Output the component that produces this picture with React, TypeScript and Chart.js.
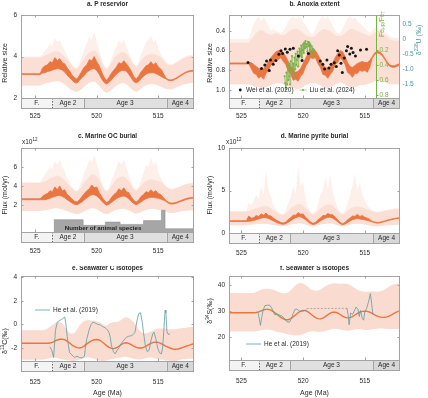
import React, { useEffect, useRef } from "react";
import { Chart, registerables } from "chart.js";
Chart.register(...registerables);

// ---------------- shared axis data ----------------
const AGE = [526.2,526.0,525.8,525.6,525.4,525.2,525.0,524.8,524.6,524.4,524.2,524.0,523.8,523.6,523.4,523.2,523.0,522.8,522.6,522.4,522.2,522.0,521.8,521.6,521.4,521.2,521.0,520.8,520.6,520.4,520.2,520.0,519.8,519.6,519.4,519.2,519.0,518.8,518.6,518.4,518.2,518.0,517.8,517.6,517.4,517.2,517.0,516.8,516.6,516.4,516.2,516.0,515.8,515.6,515.4,515.2,515.0,514.8,514.6,514.4,514.2,514.0,513.8,513.6,513.4,513.2,513.0,512.8,512.6,512.4,512.2,512.0];
const X_TICKS = [525, 520, 515];
const STAGE_NAMES = ["F.", "Age 2", "Age 3", "Age 4"];
const STAGE_BOUNDS = [527, 523.6, 521.07, 514.33, 511];

// ---------------- a. P reservoir ----------------
const A_TICKS = [2, 4, 6];
const A_OR_HI = [3.17,3.17,3.17,3.17,3.17,3.17,3.17,3.17,3.17, 3.45,3.55,3.6,3.75,3.7,3.95,3.8,3.9,3.7,3.65, 3.45,3.3,3.1,2.98,2.9,3.1,3.3,3.5,3.6,3.85, 3.8,4.0,3.75,3.55,3.25,3.0,2.85,3.0,3.2,3.35, 3.5,3.7,3.65,3.8,3.65,3.5,3.3,3.05,2.9,3.05, 3.25,3.4,3.55,3.6,3.75,3.6,3.7,3.5,3.4,3.2, 2.97,2.89,2.87,2.89,2.95,3.02,3.1,3.17,3.24,3.29,3.32,3.33,3.32];
const A_OR_LO = [3.13,3.13,3.13,3.13,3.13,3.13,3.13,3.13,3.13, 3.2,3.22,3.28,3.3,3.35,3.38,3.42,3.4,3.35,3.25, 3.1,2.97,2.85,2.75,2.72,2.85,2.98,3.1,3.25,3.32, 3.4,3.42,3.32,3.15,2.92,2.75,2.68,2.76,2.88,3.02, 3.15,3.25,3.32,3.33,3.3,3.15,2.97,2.8,2.72,2.8, 2.93,3.05,3.15,3.2,3.22,3.22,3.18,3.12,3.05,2.98, 2.93,2.85,2.83,2.85,2.91,2.98,3.06,3.13,3.2,3.25,3.28,3.29,3.28];
const A_ENV_LO = [2.6,2.6,2.6,2.6,2.6,2.6,2.6,2.6,2.6, 2.65,2.7,2.72,2.75,2.78,2.8,2.82,2.8,2.75,2.65, 2.55,2.45,2.38,2.32,2.3,2.35,2.45,2.55,2.65,2.75, 2.8,2.8,2.72,2.6,2.45,2.32,2.25,2.3,2.4,2.5, 2.6,2.68,2.72,2.72,2.68,2.58,2.45,2.35,2.3,2.35, 2.45,2.55,2.62,2.65,2.68,2.68,2.65,2.6,2.55,2.5, 2.45,2.42,2.42,2.45,2.5,2.55,2.6,2.65,2.68,2.7,2.72,2.72,2.72];
const A_ENV_HI = [3.95,3.95,3.95,3.95,3.95,3.95,3.95,3.95,3.95, 4.0,4.05,4.1,4.15,4.2,4.25,4.25,4.2,4.1,4.0, 3.85,3.7,3.55,3.45,3.4,3.55,3.75,3.95,4.1,4.2, 4.25,4.3,4.2,4.0,3.75,3.5,3.4,3.5,3.7,3.9, 4.05,4.15,4.2,4.2,4.15,4.0,3.8,3.6,3.5,3.6, 3.8,3.95,4.05,4.1,4.15,4.12,4.1,4.05,3.95,3.85, 3.7,3.6,3.58,3.6,3.68,3.75,3.82,3.9,3.95,4.0,4.02,4.03,4.02];
const A_ENV_PK = [4.0,4.0,4.0,4.0,4.0,4.0,4.0,4.0,4.0, 4.1,4.3,4.4,4.6,4.5,4.9,4.7,4.8,4.5,4.3, 4.0,3.8,3.6,3.5,3.45,3.7,4.0,4.4,4.6,5.0, 4.8,5.2,4.7,4.3,3.9,3.55,3.45,3.6,3.9,4.2, 4.5,4.8,4.6,4.8,4.5,4.2,3.9,3.65,3.55,3.75, 4.1,4.4,4.7,4.8,5.0,4.7,4.8,4.4,4.1,3.9, 3.75,3.65,3.62,3.65,3.72,3.8,3.87,3.95,4.0,4.05,4.07,4.08,4.07];

// ---------------- b. Anoxia extent ----------------
const B_TICKS = [0.4, 0.6, 0.8, 1];
const U_TICKS = [0.5, 0, -0.5, -1, -1.5];
const FE_TICKS = [0.2, 0.4, 0.6, 0.8];
const FE_AXIS_AGE = 514.1;
const B_OR_TOP = [0.725,0.725,0.725,0.725,0.725,0.725,0.725,0.725,0.725,0.725, 0.72,0.74,0.76,0.78,0.79,0.78,0.75,0.71,0.67,0.64, 0.61,0.6,0.6,0.62,0.66,0.71,0.76,0.8,0.82,0.81, 0.78,0.73,0.68,0.63,0.6,0.59,0.6,0.64,0.69,0.74, 0.77,0.78,0.76,0.72,0.67,0.63,0.6,0.61,0.66,0.72, 0.76,0.77,0.75,0.73,0.72,0.71,0.72,0.72,0.7, 0.662,0.622,0.607,0.612,0.632,0.672,0.712,0.742,0.752,0.752,0.742,0.732,0.722];
const B_OR_BOT = [0.735,0.735,0.735,0.735,0.735,0.735,0.735,0.735,0.735,0.735, 0.78,0.83,0.84,0.88,0.86,0.89,0.83,0.8,0.74,0.73, 0.68,0.69,0.67,0.71,0.74,0.81,0.84,0.9,0.89,0.91, 0.86,0.83,0.76,0.72,0.67,0.68,0.67,0.73,0.77,0.84, 0.85,0.88,0.84,0.81,0.74,0.72,0.67,0.7,0.74,0.82, 0.84,0.87,0.83,0.83,0.8,0.81,0.8,0.82,0.77, 0.678,0.638,0.623,0.628,0.648,0.688,0.728,0.758,0.768,0.768,0.758,0.748,0.738];
const B_ENV_BOT = [0.94,0.94,0.94,0.94,0.94,0.94,0.94,0.94,0.94,0.94, 0.95,0.96,0.97,0.97,0.98,0.98,0.97,0.96,0.95,0.94, 0.93,0.93,0.93,0.94,0.95,0.96,0.97,0.98,0.99,0.99, 0.98,0.97,0.95,0.94,0.93,0.93,0.93,0.94,0.95,0.97, 0.98,0.98,0.97,0.96,0.94,0.93,0.92,0.93,0.94,0.96, 0.97,0.98,0.97,0.96,0.95,0.95,0.95,0.94,0.93,0.92, 0.91,0.9,0.9,0.91,0.92,0.93,0.94,0.94,0.94,0.94,0.94,0.94];
const B_ENV_IN = [0.52,0.52,0.52,0.52,0.52,0.52,0.52,0.52,0.52,0.52, 0.48,0.45,0.42,0.4,0.39,0.4,0.42,0.43,0.44,0.43, 0.42,0.43,0.44,0.44,0.43,0.41,0.39,0.38,0.38,0.38, 0.4,0.42,0.44,0.45,0.46,0.46,0.45,0.42,0.4,0.38, 0.38,0.39,0.4,0.42,0.44,0.45,0.45,0.44,0.42,0.4, 0.38,0.38,0.39,0.4,0.41,0.42,0.43,0.44,0.45,0.44, 0.42,0.4,0.4,0.42,0.44,0.46,0.48,0.49,0.5,0.5,0.5,0.5];
const B_ENV_PK = [0.48,0.48,0.48,0.48,0.48,0.48,0.48,0.48,0.48,0.48, 0.4,0.33,0.28,0.25,0.3,0.26,0.3,0.35,0.4,0.38, 0.4,0.41,0.42,0.4,0.36,0.3,0.27,0.25,0.28,0.25, 0.27,0.3,0.34,0.38,0.42,0.43,0.38,0.32,0.27,0.25, 0.28,0.25,0.3,0.35,0.4,0.42,0.42,0.38,0.32,0.27, 0.25,0.28,0.26,0.3,0.32,0.35,0.37,0.4,0.42,0.4, 0.37,0.36,0.37,0.39,0.41,0.43,0.45,0.46,0.47,0.47,0.47,0.47];
const WEI_AGE = [524.46,523.37,523.10,522.96,522.74,522.64,522.42,522.20,521.96,521.79,521.66,521.44,521.28,521.06,520.79,520.38,520.08,519.57,518.61,518.40,518.26,518.07,517.91,517.74,517.47,517.31,517.20,517.07,516.93,516.82,516.66,516.49,516.39,516.22,516.09,515.95,515.76,515.35,514.86];
const WEI_U = [-0.77,-0.97,-0.86,-0.72,-1.04,-0.69,-0.83,-0.71,-0.50,-0.38,-0.47,-0.32,-0.43,-0.33,-0.30,-0.56,-0.71,-0.47,-0.72,-0.83,-0.99,-0.69,-0.96,-0.83,-0.78,-0.91,-0.38,-0.52,-0.80,-1.11,-0.62,-0.38,-0.24,-0.49,-0.30,-0.44,-0.56,-0.36,-0.33];
const LIU_AGE = [521.5,521.45,521.4,521.35,521.3,521.25,521.2,521.15,521.1,521.05,521.0,520.95,520.9,520.85,520.8,520.75,520.7,520.65,520.6,520.55,520.5,520.45,520.4,520.35,520.3,520.25,520.2,520.15,520.1,520.05,520.0,519.95,519.9,519.85,519.8,519.75,519.7,519.65,519.6,519.55,519.5,519.45,519.4,519.35,519.3,519.25,519.2,519.15,519.1];
const LIU_FE = [0.55,0.64,0.72,0.5,0.66,0.42,0.6,0.38,0.55,0.66,0.35,0.5,0.28,0.45,0.38,0.56,0.3,0.46,0.25,0.4,0.33,0.22,0.42,0.3,0.18,0.28,0.22,0.14,0.3,0.2,0.12,0.24,0.1,0.18,0.08,0.16,0.12,0.22,0.09,0.15,0.1,0.2,0.13,0.25,0.15,0.22,0.18,0.28,0.2];

// ---------------- c. Marine OC burial ----------------
const C_TICKS = [2, 4, 6];
const C_OR_HI = [2.65,2.65,2.65,2.65,2.65,2.65,2.65,2.65,2.65, 2.9,3.1,3.2,3.5,3.4,3.9,3.6,4.0,3.5,3.6, 3.1,2.9,2.6,2.4,2.3,2.55,2.9,3.2,3.5,3.7, 4.1,3.8,3.9,3.3,2.9,2.5,2.25,2.4,2.8,3.1, 3.3,3.7,3.5,3.8,3.4,3.3,2.85,2.5,2.3,2.5, 2.9,3.1,3.4,3.3,3.6,3.35,3.5,3.2,3.1,2.8, 2.5,2.3,2.2,2.2,2.25,2.35,2.45,2.55,2.65,2.72,2.77,2.8,2.8];
const C_OR_LO = [2.55,2.55,2.55,2.55,2.55,2.55,2.55,2.55,2.55, 2.55,2.55,2.62,2.7,2.8,2.9,2.98,3.0,2.9,2.75, 2.55,2.37,2.2,2.07,2.03,2.15,2.32,2.55,2.75,2.95, 3.08,3.08,2.95,2.7,2.42,2.15,1.98,2.07,2.27,2.47, 2.65,2.8,2.9,2.95,2.85,2.65,2.37,2.15,2.03,2.15, 2.32,2.5,2.65,2.75,2.8,2.8,2.75,2.7,2.62,2.52, 2.4,2.2,2.1,2.1,2.15,2.25,2.35,2.45,2.55,2.62,2.67,2.7,2.7];
const C_ENV_LO = [1.35,1.35,1.35,1.35,1.35,1.35,1.35,1.35,1.35, 1.4,1.45,1.5,1.55,1.6,1.65,1.65,1.6,1.55,1.45, 1.35,1.25,1.15,1.1,1.05,1.1,1.2,1.35,1.5,1.6, 1.65,1.65,1.55,1.4,1.25,1.1,1.05,1.1,1.25,1.4, 1.5,1.55,1.6,1.6,1.55,1.45,1.3,1.15,1.1,1.15, 1.25,1.4,1.5,1.55,1.6,1.6,1.55,1.5,1.45,1.4, 1.3,1.2,1.15,1.15,1.2,1.25,1.3,1.35,1.4,1.42,1.45,1.45,1.45];
const C_ENV_HI = [4.3,4.3,4.3,4.3,4.3,4.3,4.3,4.3,4.3, 4.4,4.5,4.6,4.8,4.9,5.0,5.1,5.0,4.8,4.6, 4.3,4.0,3.7,3.5,3.4,3.6,4.0,4.4,4.7,5.0, 5.2,5.2,5.0,4.6,4.1,3.6,3.4,3.6,4.0,4.4, 4.7,4.9,5.0,5.0,4.8,4.5,4.1,3.7,3.5,3.7, 4.0,4.3,4.5,4.6,4.7,4.65,4.6,4.5,4.4,4.2, 3.95,3.75,3.65,3.65,3.75,3.85,3.95,4.05,4.15,4.2,4.25,4.25,4.25];
const C_ENV_PK = [4.4,4.4,4.4,4.4,4.4,4.4,4.4,4.4,4.4, 4.8,5.2,5.6,6.0,5.8,6.6,6.2,6.8,6.0,5.6, 4.8,4.4,3.9,3.6,3.5,3.9,4.6,5.4,6.0,6.8, 6.5,7.2,6.4,5.4,4.4,3.8,3.5,3.8,4.6,5.2, 6.0,6.6,6.2,6.8,6.0,5.2,4.4,3.8,3.6,3.9, 4.6,5.4,6.2,6.0,7.0,6.2,6.6,5.4,4.9,4.4, 4.0,3.8,3.7,3.7,3.8,3.9,4.0,4.1,4.2,4.25,4.3,4.3,4.3];
const SPECIES_AGE = [523.5, 521.1, 519.3, 518.1, 516.2, 514.75, 514.45, 512.0];
const SPECIES_N = [0.45, -0.15, 0.2, -0.05, 0.35, 1.45, -0.5, -0.5];

// ---------------- d. Marine pyrite burial ----------------
const D_TICKS = [0, 5, 10];
const D_OR_HI = [1.45,1.45,1.45,1.45,1.45,1.45,1.45,1.45,1.45, 2.0,1.75,1.8,2.05,1.95,2.25,2.1,2.35,2.05,2.0, 1.75,1.55,1.38,1.24,1.18,1.3,1.6,1.8,2.1,2.1, 2.4,2.2,2.25,1.85,1.6,1.28,1.14,1.25,1.55,1.75, 2.05,2.05,2.3,2.15,2.15,1.85,1.58,1.25,1.1,1.25, 1.55,1.75,2.0,1.95,2.2,1.95,2.05,1.85,1.75,1.6, 1.39,1.29,1.24,1.26,1.34,1.42,1.51,1.59,1.66,1.72,1.76,1.79,1.79];
const D_OR_LO = [1.35,1.35,1.35,1.35,1.35,1.35,1.35,1.35,1.35, 1.38,1.42,1.47,1.55,1.65,1.75,1.8,1.8,1.7,1.55, 1.42,1.28,1.15,1.06,1.02,1.1,1.27,1.45,1.65,1.8, 1.9,1.9,1.75,1.55,1.32,1.1,1.0,1.05,1.22,1.42, 1.6,1.75,1.85,1.85,1.75,1.55,1.32,1.1,0.97,1.05, 1.22,1.42,1.55,1.65,1.7,1.65,1.6,1.55,1.47,1.4, 1.31,1.21,1.16,1.18,1.26,1.34,1.43,1.51,1.58,1.64,1.68,1.71,1.71];
const D_ENV_LO = [0.9,0.9,0.9,0.9,0.9,0.9,0.9,0.9,0.9, 0.95,1.0,1.0,1.05,1.1,1.1,1.1,1.1,1.05,1.0, 0.95,0.9,0.85,0.8,0.8,0.85,0.9,1.0,1.05,1.1, 1.15,1.15,1.1,1.0,0.9,0.8,0.78,0.8,0.9,1.0, 1.05,1.1,1.15,1.15,1.1,1.0,0.9,0.8,0.78,0.8, 0.9,1.0,1.05,1.1,1.1,1.1,1.05,1.0,0.95,0.9, 0.85,0.82,0.8,0.82,0.85,0.88,0.9,0.92,0.95,0.97,0.98,0.98,0.98];
const D_ENV_HI = [2.5,2.5,2.5,2.5,2.5,2.5,2.5,2.5,2.5, 2.6,2.7,2.8,2.9,3.0,3.1,3.2,3.2,3.1,2.9, 2.7,2.5,2.3,2.15,2.1,2.3,2.6,2.9,3.1,3.3, 3.4,3.4,3.2,2.9,2.6,2.3,2.15,2.3,2.6,2.9, 3.1,3.3,3.35,3.35,3.2,2.9,2.6,2.3,2.15,2.3, 2.6,2.85,3.0,3.1,3.15,3.1,3.0,2.9,2.8,2.7, 2.55,2.45,2.4,2.45,2.5,2.6,2.65,2.7,2.75,2.8,2.8,2.8,2.8];
const D_ENV_PK = [2.6,2.6,2.6,2.6,2.6,2.6,2.6,2.6,2.6, 3.6,3.2,3.8,4.5,4.0,5.5,4.5,7.5,5.0,4.2, 3.2,2.8,2.5,2.3,2.2,2.6,3.5,4.2,5.5,4.6, 8.0,5.5,6.0,4.0,3.0,2.5,2.3,2.6,3.4,4.5, 5.0,6.5,5.0,7.0,4.8,3.8,2.9,2.5,2.3,2.7, 3.4,4.5,5.5,7.0,5.0,6.0,4.5,3.8,3.2,2.9, 2.65,2.55,2.5,2.55,2.6,2.7,2.75,2.8,2.85,2.9,2.9,2.9,2.9];

// ---------------- e. Seawater C isotopes ----------------
const E_TICKS = [-2, 0, 2, 4];
const E_OR = [-1.6,-1.6,-1.6,-1.6,-1.6,-1.6,-1.6,-1.6,-1.6,-1.6,-1.6,-1.6, -1.58,-1.52,-1.42,-1.32,-1.26,-1.25,-1.3,-1.42,-1.58,-1.75,-1.88,-1.97,-2.0,-1.95,-1.82,-1.65,-1.5,-1.38,-1.3,-1.28,-1.32,-1.45,-1.62,-1.8,-1.95,-2.03,-2.05,-1.98,-1.85,-1.7,-1.58,-1.55,-1.6,-1.72,-1.85,-1.95,-2.0,-2.0,-1.95,-1.85,-1.72,-1.6,-1.52,-1.5,-1.52,-1.6,-1.72,-1.83,-1.93,-2.02,-2.08,-2.1,-2.08,-2.02,-1.95,-1.87,-1.8,-1.73,-1.66,-1.6];
const E_ENV_HI = [-0.5,-0.5,-0.5,-0.5,-0.5,-0.5,-0.5,-0.5,-0.5,-0.5, -0.45,-0.35,-0.2,-0.05,0.1,0.2,0.2,0.1,-0.2,-0.5, -0.75,-0.8,-0.7,-0.45,-0.1,0.15,0.3,0.35,0.35,0.3, 0.3,0.25,0.2,0.1,-0.05,-0.1,0.05,0.15,0.2,0.2, 0.25,0.4,0.55,0.6,0.55,0.4,0.2,-0.1,-0.4,-0.65, -0.75,-0.75,-0.7,-0.6,-0.5,-0.4,-0.35,-0.35,-0.35,-0.35, -0.4,-0.4,-0.4,-0.4,-0.35,-0.35,-0.3,-0.3,-0.25,-0.25,-0.2,-0.2];
const E_ENV_LO = [-3.0,-3.0,-3.0,-3.0,-3.0,-3.0,-3.0,-3.0,-3.0,-3.0, -2.95,-2.9,-2.85,-2.8,-2.8,-2.85,-2.9,-2.95,-3.0,-3.05,-3.05, -3.1,-3.1,-3.05,-3.0,-2.9,-2.85,-2.8,-2.8,-2.85,-2.9,-3.0,-3.05,-3.1,-3.1,-3.05, -3.0,-2.95,-2.9,-2.85,-2.8,-2.8,-2.75,-2.75,-2.8,-2.85,-2.9,-2.95,-3.0,-2.95,-2.9, -2.85,-2.8,-2.8,-2.85,-2.9,-2.95,-3.0,-3.0,-3.05,-3.05,-3.1,-3.1,-3.1,-3.05,-3.0,-2.95,-2.95,-2.9,-2.9,-2.9,-2.9];
const HE_E_AGE = [523.8,523.65,523.5,523.35,523.2,523.05,522.9,522.75,522.6,522.5,522.4,522.3,522.2,522.0,521.8,521.6,521.4,521.2,521.0,520.9,520.8,520.6,520.45,520.3,520.1,519.9,519.7,519.5,519.3,519.1,519.0,518.9,518.8,518.65,518.5,518.35,518.2,518.0,517.85,517.6,517.4,517.15,516.9,516.75,516.6,516.45,516.3,516.2,516.05,515.9,515.75,515.6,515.45,515.35,515.2,515.05,514.9,514.75,514.65,514.55,514.45,514.38,514.3,514.2,514.05];
const HE_E_VAL = [-1.9,-2.2,-2.8,-0.5,0.2,0.3,0.4,0.5,0.63,0.0,-1.0,-1.8,-2.4,-2.6,-2.8,-2.7,-2.8,-2.85,-2.7,-1.8,-1.2,-0.4,0.0,0.2,0.1,0.0,-0.05,-0.2,-0.3,-0.5,-0.7,-1.1,-1.8,-2.3,-2.5,-2.2,-2.0,-1.6,-1.4,-1.1,-1.0,-0.95,-0.7,0.2,0.9,1.0,0.2,-0.7,-1.8,-2.3,-2.2,-1.4,-0.8,-0.65,-1.2,-2.0,-2.4,-2.5,-2.0,-0.5,1.2,1.0,-0.6,-0.85,-0.8];

// ---------------- f. Seawater S isotopes ----------------
const F_TICKS = [20, 30, 40];
const F_OR = [29.3,29.3,29.3,29.3,29.3,29.3,29.3,29.3,29.3,29.3,29.3,29.3, 29.4,29.6,30.0,30.4,30.6,30.6,30.3,29.7,29.0,28.2,27.5,26.9,26.6,26.6,27.0,27.7,28.5,29.3,29.9,30.2,30.1,29.6,28.9,28.1,27.4,27.0,26.9,27.2,27.8,28.5,29.1,29.5,29.5,29.2,28.6,28.0,27.5,27.3,27.4,27.8,28.4,29.0,29.5,29.8,29.9,29.8,29.5,29.0,28.5,28.0,27.7,27.5,27.5,27.7,28.1,28.6,29.1,29.6,30.0,30.3];
const F_ENV_HI = [36.9,36.9,36.9,36.9,36.9,36.9,36.9,36.9,36.9,36.9,36.9,36.9, 37.3, 37.8,38.3,38.5,38.6,38.6,38.4,38.2,37.8,37.3, 37.0,36.8,36.8,37.2,38.0,39.0, 40.0,40.6,40.8,40.6,40.0,39.2,38.4, 38.0,37.8,37.9,38.3,38.9,39.5, 40.0,40.4,40.6,40.7,40.6,40.4,40.5,40.6,40.4,40.0,39.4,38.8,38.2, 37.8,37.5,37.4,37.4,37.5,37.6,37.5,37.4,37.5,37.8, 38.3,38.9,39.5,40.0,40.3,40.5,40.6,40.6];
const F_ENV_LO = [22.0,22.0,22.0,22.0,22.0,22.0,22.0,22.0,22.0,22.0,22.0,22.0, 22.1,22.3,22.5,22.7,22.8,22.8,22.6,22.3,22.0,21.8, 21.6,21.4,21.2,21.0,20.8,20.6,20.5,20.5,20.7,21.0,21.4,21.8,22.0, 22.1,22.0,21.9,21.9,22.0,22.2,22.5,22.8,23.0,23.1,23.0,22.8,22.6, 22.4,22.3,22.4,22.6,22.8,23.0,23.0,22.8,22.6,22.6,22.7,22.8,23.0,23.1,23.2,23.2,23.1,23.0,23.0,23.0,23.0,23.0,23.0,23.0];
const HE_F_AGE = [523.66,523.55,523.45,523.35,523.25,523.1,522.9,522.7,522.55,522.4,522.3,522.1,521.9,521.7,521.5,521.3,521.1,520.95,520.8,520.65,520.5,520.3,520.1,519.9,519.7, 518.0, 516.45,516.35,516.27,516.15,516.0,515.85,515.7,515.55,515.45,515.35,515.2,515.1,515.0,514.85,514.7,514.55,514.45,514.35];
const HE_F_VAL = [29.6,27.0,24.4,27.5,30.0,32.0,32.2,32.2,31.2,29.5,28.5,28.7,28.4,28.0,27.0,25.8,25.6,27.0,29.0,30.6,30.7,29.9,29.8,30.1,30.4, null, 31.1,28.5,24.6,29.2,28.6,30.0,31.5,30.5,27.8,30.2,27.0,26.4,29.5,31.0,33.5,36.7,33.0,28.7];
const HE_F_GAP_AGE = [519.7, 516.45];
const HE_F_GAP_VAL = [30.9, 31.0];

// ---------------- styles ----------------
const FONT = "'Liberation Sans', Arial, Helvetica, sans-serif";
const TXT = "#2a2a2a";
const ORANGE = "#ea7540";
const PINK_IN = "#fbdfd4";
const PINK_OUT = "#fdefe9";
const PINK_E = "#fadbd0";
const TEAL = "#5e9ca4";
const GREEN = "#79b04a";
const BLUE = "#4f95a6";
const FRAME = "#a3a3a3";
const STAGE_FILL = ["#f4f4f4", "#e9e9e9", "#e0e0e0", "#d7d7d7"];
const STAGE_H = 10;
const FS = 6.5;

Chart.defaults.font.family = FONT;
Chart.defaults.font.size = FS;
Chart.defaults.color = TXT;

const pts = (xs: number[], ys: (number | null)[]) => xs.map((x, i) => ({ x, y: ys[i] }));
const ln = (data: any, o: any = {}) => ({ data, borderWidth: 0, pointRadius: 0, fill: false, tension: 0, ...o });

function text(ctx: any, s: string, x: number, y: number, size: number, opt: any = {}) {
  ctx.save();
  ctx.font = `${opt.bold ? "bold " : ""}${size}px ${FONT}`;
  ctx.fillStyle = opt.color || TXT;
  ctx.textAlign = opt.align || "center";
  ctx.textBaseline = "middle";
  ctx.translate(x, y);
  if (opt.rot) ctx.rotate(opt.rot);
  ctx.fillText(s, 0, 0);
  ctx.restore();
}

function rich(ctx: any, parts: [string, string][], x: number, y: number, size: number, color: string, rot = 0, align = "center") {
  ctx.save();
  ctx.translate(x, y);
  ctx.rotate(rot);
  ctx.fillStyle = color;
  ctx.textBaseline = "middle";
  ctx.textAlign = "left";
  const small = size * 0.68;
  const ws = parts.map(([s, k]) => {
    ctx.font = `${k === "n" ? size : small}px ${FONT}`;
    return ctx.measureText(s).width;
  });
  const total = ws.reduce((a, b) => a + b, 0);
  let cx = align === "center" ? -total / 2 : 0;
  parts.forEach(([s, k], i) => {
    ctx.font = `${k === "n" ? size : small}px ${FONT}`;
    const dy = k === "sup" ? -size * 0.35 : k === "sub" ? size * 0.3 : 0;
    ctx.fillText(s, cx, dy);
    cx += ws[i];
  });
  ctx.restore();
}

function hline(ctx: any, x1: number, y1: number, x2: number, y2: number) {
  ctx.beginPath();
  ctx.moveTo(x1, y1);
  ctx.lineTo(x2, y2);
  ctx.stroke();
}

function decor(p: any) {
  return {
    id: "decor",
    afterDraw(chart: any) {
      const { ctx, chartArea: a, scales } = chart;
      const x = scales.x, y = scales.y;
      ctx.save();
      const sb = a.bottom;
      for (let i = 0; i < STAGE_NAMES.length; i++) {
        const p1 = Math.max(a.left, Math.min(a.right, x.getPixelForValue(STAGE_BOUNDS[i])));
        const p2 = Math.max(a.left, Math.min(a.right, x.getPixelForValue(STAGE_BOUNDS[i + 1])));
        ctx.fillStyle = STAGE_FILL[i];
        ctx.fillRect(Math.min(p1, p2), sb, Math.abs(p2 - p1), STAGE_H);
        text(ctx, STAGE_NAMES[i], (p1 + p2) / 2, sb + STAGE_H / 2 + 0.5, FS);
      }
      ctx.strokeStyle = FRAME;
      ctx.lineWidth = 1;
      ctx.strokeRect(a.left + 0.5, sb + 0.5, a.right - a.left - 1, STAGE_H);
      for (let i = 1; i < STAGE_NAMES.length; i++) {
        const px = Math.round(x.getPixelForValue(STAGE_BOUNDS[i])) + 0.5;
        ctx.setLineDash(i === 1 ? [1.5, 1.5] : []);
        ctx.strokeStyle = i === 1 ? "#666" : FRAME;
        hline(ctx, px, sb, px, sb + STAGE_H);
      }
      ctx.setLineDash([]);
      ctx.strokeStyle = FRAME;
      ctx.strokeRect(a.left + 0.5, a.top + 0.5, a.right - a.left - 1, a.bottom - a.top);
      X_TICKS.forEach((v) => {
        const px = Math.round(x.getPixelForValue(v)) + 0.5;
        hline(ctx, px, a.top, px, a.top + 2.5);
        hline(ctx, px, a.bottom, px, a.bottom - 2.5);
      });
      p.yTicks.forEach((v: number) => {
        const py = Math.round(y.getPixelForValue(v)) + 0.5;
        hline(ctx, a.left, py, a.left + 2.5, py);
        if (!p.rightW) hline(ctx, a.right, py, a.right - 2.5, py);
      });
      text(ctx, p.title, (a.left + a.right) / 2, p.titleY, FS, { bold: true });
      rich(ctx, p.yTitle, p.yTitleX, p.yTitleY, 7, TXT, -Math.PI / 2);
      if (p.xTitle) text(ctx, p.xTitle, (a.left + a.right) / 2, chart.height - 4.7, 7);
      if (p.extra) p.extra(chart);
      ctx.restore();
    },
  };
}

function makeChart(canvas: HTMLCanvasElement, p: any) {
  const padL = p.padL || 0;
  const rightW = p.rightW || 0;
  const scales: any = {
    x: {
      type: "linear", reverse: true, min: p.xMin, max: p.xMax,
      grid: { display: false, drawTicks: false }, border: { display: false },
      afterBuildTicks: (s: any) => { s.ticks = X_TICKS.map((v) => ({ value: v })); },
      afterFit: (s: any) => { s.height = p.h - p.area.b; },
      ticks: { padding: p.xPad, maxRotation: 0, autoSkip: false, font: { size: FS } },
    },
    y: {
      type: "linear", min: p.yMin, max: p.yMax, reverse: !!p.yRev,
      grid: { display: false, drawTicks: false }, border: { display: false },
      afterBuildTicks: (s: any) => { s.ticks = p.yTicks.map((v: number) => ({ value: v })); },
      afterFit: (s: any) => { s.width = p.area.l - padL; },
      ticks: { padding: 4, font: { size: FS } },
    },
    ...(p.extraScales || {}),
  };
  return new Chart(canvas, {
    type: "line",
    data: { datasets: p.datasets },
    options: {
      animation: false, responsive: false, maintainAspectRatio: false,
      layout: { padding: { left: padL, top: p.area.t, right: p.w - p.area.r - rightW, bottom: 0 } },
      plugins: { legend: { display: false }, tooltip: { enabled: false } },
      scales,
    },
    plugins: [decor(p)],
  } as any);
}

function bandSets(envLo: number[], envPk: number[], envHi: number[], orLo: number[], orHi: number[]) {
  return [
    ln(pts(AGE, envLo), { order: 20 }),
    ln(pts(AGE, envPk), { fill: 0, backgroundColor: PINK_OUT, order: 19 }),
    ln(pts(AGE, envHi), { fill: 0, backgroundColor: PINK_IN, order: 18 }),
    ln(pts(AGE, orLo), { borderColor: ORANGE, borderWidth: 0.8, order: 5 }),
    ln(pts(AGE, orHi), { borderColor: ORANGE, borderWidth: 0.8, fill: 3, backgroundColor: ORANGE, order: 4 }),
  ];
}

const PANELS: any[] = [
  {
    key: "a", left: 0, top: 0, w: 214, h: 133, area: { l: 21, t: 15, r: 194, b: 98 },
    xMin: 512.1, xMax: 526.15, xPad: 14.5, yMin: 2, yMax: 6, yTicks: A_TICKS,
    title: "a. P reservior", titleY: 4.5, yTitle: [["Relative size", "n"]], yTitleX: 5.2, yTitleY: 63,
    datasets: bandSets(A_ENV_LO, A_ENV_PK, A_ENV_HI, A_OR_LO, A_OR_HI),
  },
  {
    key: "b", left: 200, top: 0, w: 228, h: 133, area: { l: 29, t: 15, r: 200, b: 98 }, padL: 5, rightW: 28,
    xMin: 512.15, xMax: 526.0, xPad: 14.5, yMin: 0.237, yMax: 1.081, yRev: true, yTicks: B_TICKS,
    title: "b. Anoxia extent", titleY: 4.5, yTitle: [["Relative size", "n"]], yTitleX: 10, yTitleY: 63,
    extraScales: {
      yU: {
        type: "linear", position: "right", min: -1.957, max: 0.81,
        grid: { display: false, drawTicks: false }, border: { display: false },
        afterBuildTicks: (s: any) => { s.ticks = U_TICKS.map((v) => ({ value: v })); },
        afterFit: (s: any) => { s.width = 28; },
        ticks: { padding: 2.5, color: BLUE, font: { size: FS }, callback: (v: number) => (v === 0 ? "0" : Number(v).toFixed(1)) },
      },
      yFe: { type: "linear", display: false, position: "right", reverse: true, min: -0.267, max: 0.84 },
    },
    datasets: [
      ...bandSets(B_ENV_BOT, B_ENV_PK, B_ENV_IN, B_OR_TOP, B_OR_BOT),
      ln(pts(LIU_AGE, LIU_FE), { yAxisID: "yFe", borderColor: GREEN, borderWidth: 0.6, pointRadius: 1.1, pointBorderWidth: 0, pointBackgroundColor: GREEN, order: 2 }),
      ln(pts(WEI_AGE, WEI_U), { yAxisID: "yU", showLine: false, pointRadius: 1.5, pointBorderWidth: 0, pointBackgroundColor: "#161616", order: 1 }),
    ],
    extra: (chart: any) => {
      const { ctx, chartArea: a, scales } = chart;
      const gx = Math.round(scales.x.getPixelForValue(FE_AXIS_AGE)) + 0.5;
      ctx.strokeStyle = GREEN;
      ctx.lineWidth = 1;
      hline(ctx, gx, a.top + 1, gx, a.bottom);
      FE_TICKS.forEach((v) => {
        const py = Math.round(scales.yFe.getPixelForValue(v)) + 0.5;
        hline(ctx, gx, py, gx + 2, py);
        text(ctx, v.toFixed(1), gx + 3, py, FS, { align: "left", color: GREEN });
      });
      rich(ctx, [["Fe", "n"], ["HR", "sub"], ["/Fe", "n"], ["T", "sub"]], gx + 5.5, a.top + 9, FS, GREEN, -Math.PI / 2);
      rich(ctx, [["δ", "n"], ["238", "sup"], ["U (‰)", "n"]], chart.width - 9, a.top + 25, 7, BLUE, -Math.PI / 2);
      const ly = a.bottom - 8;
      ctx.fillStyle = "#161616";
      ctx.beginPath(); ctx.arc(a.left + 11.3, ly, 1.4, 0, Math.PI * 2); ctx.fill();
      text(ctx, "Wei et al. (2020)", a.left + 17, ly, FS, { align: "left" });
      ctx.strokeStyle = GREEN; ctx.lineWidth = 0.6;
      hline(ctx, a.left + 70.5, ly, a.left + 77.5, ly);
      ctx.fillStyle = GREEN;
      ctx.beginPath(); ctx.arc(a.left + 74, ly, 1.1, 0, Math.PI * 2); ctx.fill();
      text(ctx, "Liu et al. (2024)", a.left + 80.5, ly, FS, { align: "left" });
    },
  },
  {
    key: "c", left: 0, top: 133, w: 214, h: 133, area: { l: 21, t: 15, r: 194, b: 99 },
    xMin: 512.1, xMax: 526.15, xPad: 15.5, yMin: -0.85, yMax: 8, yTicks: C_TICKS,
    title: "c. Marine OC burial", titleY: 3, yTitle: [["Flux (mol/yr)", "n"]], yTitleX: 5.2, yTitleY: 62,
    datasets: [
      ...bandSets(C_ENV_LO, C_ENV_PK, C_ENV_HI, C_OR_LO, C_OR_HI),
      ln(pts(SPECIES_AGE, SPECIES_N), { stepped: "before", fill: "start", backgroundColor: "#a6a6a6", borderColor: "#8c8c8c", borderWidth: 0.5, order: 6 }),
    ],
    extra: (chart: any) => {
      const { ctx, chartArea: a } = chart;
      rich(ctx, [["x10", "n"], ["12", "sup"]], a.left + 1, a.top - 6, FS, TXT, 0, "left");
      text(ctx, "Number of animal species", a.left + 82, a.bottom - 3.5, 6.2, { bold: true, color: "#1e1e1e" });
    },
  },
  {
    key: "d", left: 200, top: 133, w: 228, h: 133, area: { l: 29, t: 15, r: 200, b: 100 }, padL: 5,
    xMin: 512.15, xMax: 526.0, xPad: 16, yMin: 0, yMax: 10, yTicks: D_TICKS,
    title: "d. Marine pyrite burial", titleY: 3, yTitle: [["Flux (mol/yr)", "n"]], yTitleX: 10, yTitleY: 62,
    datasets: bandSets(D_ENV_LO, D_ENV_PK, D_ENV_HI, D_OR_LO, D_OR_HI),
    extra: (chart: any) => {
      const { ctx, chartArea: a } = chart;
      rich(ctx, [["x10", "n"], ["12", "sup"]], a.left - 3, a.top - 6, FS, TXT, 0, "left");
    },
  },
  {
    key: "e", left: 0, top: 266, w: 214, h: 132, area: { l: 21, t: 10, r: 194, b: 95 },
    xMin: 512.1, xMax: 526.15, xPad: 17.5, xTitle: "Age (Ma)", yMin: -3.1, yMax: 4.1, yTicks: E_TICKS,
    title: "e. Seawater C isotopes", titleY: 2.5, yTitle: [["δ", "n"], ["13", "sup"], ["C(‰)", "n"]], yTitleX: 5.2, yTitleY: 75,
    datasets: [
      ln(pts(AGE, E_ENV_LO), { order: 20 }),
      ln(pts(AGE, E_ENV_HI), { fill: 0, backgroundColor: PINK_E, order: 19 }),
      ln(pts(AGE, E_OR), { borderColor: ORANGE, borderWidth: 1.4, order: 5 }),
      ln(pts(HE_E_AGE, HE_E_VAL), { borderColor: TEAL, borderWidth: 0.8, order: 3 }),
    ],
    extra: (chart: any) => {
      const { ctx, chartArea: a } = chart;
      ctx.strokeStyle = TEAL; ctx.lineWidth = 0.8;
      hline(ctx, a.left + 14, a.top + 34, a.left + 29, a.top + 34);
      text(ctx, "He et al. (2019)", a.left + 32, a.top + 34, FS, { align: "left" });
    },
  },
  {
    key: "f", left: 200, top: 266, w: 228, h: 132, area: { l: 29, t: 10, r: 200, b: 94 }, padL: 5,
    xMin: 512.15, xMax: 526.0, xPad: 17.5, xTitle: "Age (Ma)", yMin: 11, yMax: 43.5, yTicks: F_TICKS,
    title: "f. Seawater S isotopes", titleY: 2.5, yTitle: [["δ", "n"], ["34", "sup"], ["S(‰)", "n"]], yTitleX: 10, yTitleY: 45,
    datasets: [
      ln(pts(AGE, F_ENV_LO), { order: 20 }),
      ln(pts(AGE, F_ENV_HI), { fill: 0, backgroundColor: PINK_E, order: 19 }),
      ln(pts(AGE, F_OR), { borderColor: ORANGE, borderWidth: 1.4, order: 5 }),
      ln(pts(HE_F_GAP_AGE, HE_F_GAP_VAL), { borderColor: "#9a9a9a", borderWidth: 0.8, borderDash: [2, 1.5], order: 4 }),
      ln(pts(HE_F_AGE, HE_F_VAL), { borderColor: TEAL, borderWidth: 0.8, order: 3 }),
    ],
    extra: (chart: any) => {
      const { ctx, chartArea: a } = chart;
      ctx.strokeStyle = TEAL; ctx.lineWidth = 0.8;
      hline(ctx, a.left + 17, a.top + 68, a.left + 32, a.top + 68);
      text(ctx, "He et al. (2019)", a.left + 35, a.top + 68, FS, { align: "left" });
    },
  },
];

function Panel({ spec }: { spec: any }) {
  const ref = useRef<HTMLCanvasElement | null>(null);
  useEffect(() => {
    if (!ref.current) return;
    const c = makeChart(ref.current, spec);
    return () => c.destroy();
  }, [spec]);
  return (
    <canvas
      ref={ref}
      width={spec.w}
      height={spec.h}
      style={{ position: "absolute", left: spec.left, top: spec.top, width: spec.w, height: spec.h }}
    />
  );
}

export default function App() {
  return (
    <div style={{ position: "absolute", left: 0, top: 0, width: 428, height: 398, background: "#fff", overflow: "hidden" }}>
      {PANELS.map((p) => (
        <Panel key={p.key} spec={p} />
      ))}
    </div>
  );
}
